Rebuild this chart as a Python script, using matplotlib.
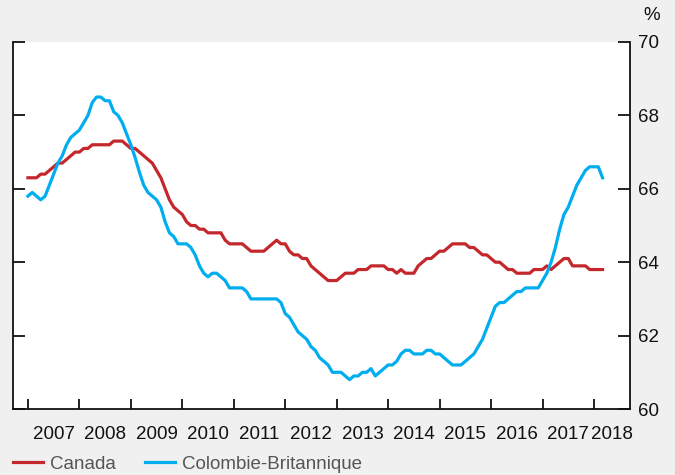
import matplotlib
matplotlib.use("Agg")
import matplotlib.pyplot as plt
import numpy as np

plt.rcParams['font.family'] = ['Liberation Sans', 'DejaVu Sans']

start_year = 2007
canada = [
    66.3, 66.3, 66.3, 66.4, 66.4, 66.5, 66.6, 66.7, 66.7, 66.8, 66.9, 67.0,  # 2007
    67.0, 67.1, 67.1, 67.2, 67.2, 67.2, 67.2, 67.2, 67.3, 67.3, 67.3, 67.2,  # 2008
    67.1, 67.1, 67.0, 66.9, 66.8, 66.7, 66.5, 66.3, 66.0, 65.7, 65.5, 65.4,  # 2009
    65.3, 65.1, 65.0, 65.0, 64.9, 64.9, 64.8, 64.8, 64.8, 64.8, 64.6, 64.5,  # 2010
    64.5, 64.5, 64.5, 64.4, 64.3, 64.3, 64.3, 64.3, 64.4, 64.5, 64.6, 64.5,  # 2011
    64.5, 64.3, 64.2, 64.2, 64.1, 64.1, 63.9, 63.8, 63.7, 63.6, 63.5, 63.5,  # 2012
    63.5, 63.6, 63.7, 63.7, 63.7, 63.8, 63.8, 63.8, 63.9, 63.9, 63.9, 63.9,  # 2013
    63.8, 63.8, 63.7, 63.8, 63.7, 63.7, 63.7, 63.9, 64.0, 64.1, 64.1, 64.2,  # 2014
    64.3, 64.3, 64.4, 64.5, 64.5, 64.5, 64.5, 64.4, 64.4, 64.3, 64.2, 64.2,  # 2015
    64.1, 64.0, 64.0, 63.9, 63.8, 63.8, 63.7, 63.7, 63.7, 63.7, 63.8, 63.8,  # 2016
    63.8, 63.9, 63.8, 63.9, 64.0, 64.1, 64.1, 63.9, 63.9, 63.9, 63.9, 63.8,  # 2017
    63.8, 63.8, 63.8,                                                        # 2018
]
colombie_britannique = [
    65.8, 65.9, 65.8, 65.7, 65.8, 66.1, 66.4, 66.7, 66.9, 67.2, 67.4, 67.5,  # 2007
    67.6, 67.8, 68.0, 68.35, 68.5, 68.5, 68.4, 68.4, 68.1, 68.0, 67.8, 67.5,  # 2008
    67.2, 66.85, 66.45, 66.1, 65.9, 65.8, 65.7, 65.5, 65.1, 64.8, 64.7, 64.5,  # 2009
    64.5, 64.5, 64.4, 64.2, 63.9, 63.7, 63.6, 63.7, 63.7, 63.6, 63.5, 63.3,  # 2010
    63.3, 63.3, 63.3, 63.2, 63.0, 63.0, 63.0, 63.0, 63.0, 63.0, 63.0, 62.9,  # 2011
    62.6, 62.5, 62.3, 62.1, 62.0, 61.9, 61.7, 61.6, 61.4, 61.3, 61.2, 61.0,  # 2012
    61.0, 61.0, 60.9, 60.8, 60.9, 60.9, 61.0, 61.0, 61.1, 60.9, 61.0, 61.1,  # 2013
    61.2, 61.2, 61.3, 61.5, 61.6, 61.6, 61.5, 61.5, 61.5, 61.6, 61.6, 61.5,  # 2014
    61.5, 61.4, 61.3, 61.2, 61.2, 61.2, 61.3, 61.4, 61.5, 61.7, 61.9, 62.2,  # 2015
    62.5, 62.8, 62.9, 62.9, 63.0, 63.1, 63.2, 63.2, 63.3, 63.3, 63.3, 63.3,  # 2016
    63.5, 63.7, 64.0, 64.4, 64.9, 65.3, 65.5, 65.8, 66.1, 66.3, 66.5, 66.6,  # 2017
    66.6, 66.6, 66.3,                                                        # 2018
]
years = list(range(2007, 2019))
series_labels = ["Canada", "Colombie-Britannique"]
y_ticks = [60, 62, 64, 66, 68, 70]

RED = "#c4272c"
BLUE = "#00aeef"
BG = "#f0f0f0"

t = start_year + np.arange(len(canada)) / 12.0

fig = plt.figure(figsize=(6.75, 4.75), dpi=100, facecolor=BG)
ax = fig.add_axes([13 / 675, 66 / 475, 617 / 675, 367 / 475])
ax.set_facecolor("white")

l1, = ax.plot(t, canada, color=RED, lw=2.3, solid_joinstyle='round')
l2, = ax.plot(t, colombie_britannique, color=BLUE, lw=2.3, solid_joinstyle='round')

ax.set_xlim(2006.71, 2018.70)
ax.set_ylim(60, 70)

ax.spines['top'].set_visible(False)
for s in ['left', 'right', 'bottom']:
    ax.spines[s].set_linewidth(1.3)
    ax.spines[s].set_color('#111111')

ax.set_yticks(y_ticks)
ax.set_yticklabels([str(v) for v in y_ticks])
ax.tick_params(axis='y', which='major', left=True, right=True, labelleft=False,
               labelright=True, direction='in', length=8.5, width=1.3,
               pad=6, labelsize=13.5, colors='#111111')

ax.set_xticks(years)
ax.set_xticklabels([])
ax.set_xticks([y + 0.5 for y in years[:-1]] + [2018.34], minor=True)
ax.set_xticklabels([str(y) for y in years], minor=True)
ax.tick_params(axis='x', which='major', direction='in', length=7.5, width=1.3,
               color='#111111')
ax.tick_params(axis='x', which='minor', length=0, pad=12, labelsize=13.5,
               labelcolor='#111111')

fig.text(652 / 675, 1 - 15 / 475, "%", ha='center', va='center', fontsize=13.5,
         color='#111111')

fig.legend([l1, l2], series_labels, loc='lower left',
           bbox_to_anchor=(13 / 675, 2 / 475), borderpad=0, borderaxespad=0,
           ncol=2, frameon=False, handlelength=1.6, handletextpad=0.35,
           columnspacing=1.6, fontsize=13.5, labelcolor='#555555')

fig.savefig("out.png", dpi=100, facecolor=BG)
